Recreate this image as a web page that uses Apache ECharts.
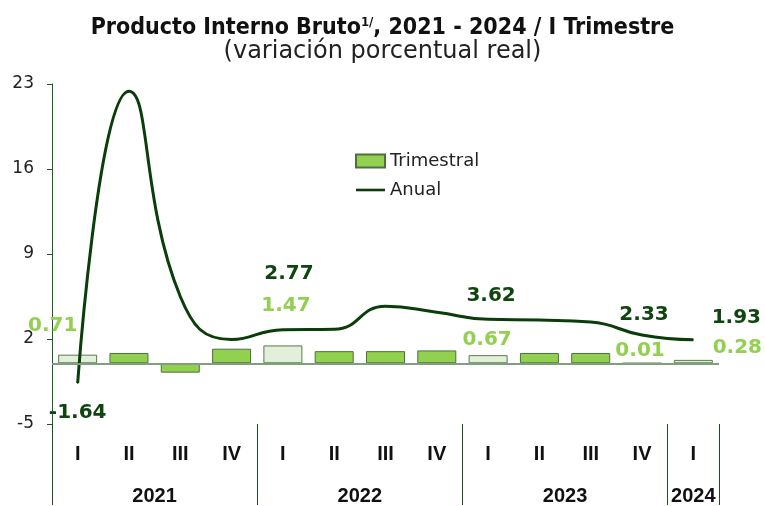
<!DOCTYPE html>
<html>
<head>
<meta charset="utf-8">
<script src="https://cdn.jsdelivr.net/npm/echarts@6/dist/echarts.min.js"></script>
<style>
html, body { margin: 0; padding: 0; background: #fff; }
#chart { width: 765px; height: 506px; }
</style>
</head>
<body>
<div id="chart"></div>
<script>
// datos
const quarters = ['I', 'II', 'III', 'IV', 'I', 'II', 'III', 'IV', 'I', 'II', 'III', 'IV', 'I'];
const years = ['2021', '2022', '2023', '2024'];
const quartersPerYear = [4, 4, 4, 1];
const trimestral = [0.71, 0.85, -0.77, 1.2, 1.47, 1.0, 1.0, 1.06, 0.67, 0.85, 0.85, 0.01, 0.28];
const anual = [-1.64, 22.4, 5.5, 1.95, 2.77, 2.8, 4.7, 4.2, 3.62, 3.56, 3.4, 2.33, 1.93];
const labelled = [0, 4, 8, 11, 12];

const chart = echarts.init(document.getElementById('chart'));

const LIGHT = '#92d050';
const DARK = '#0b3d0b';
const NUM_FONT = 'DejaVu Sans';
const TITLE_FONT = "'Liberation Sans Narrow', 'DejaVu Sans Condensed', sans-serif";

// label nudges so they sit like the original
const trimOffsets = { 0: [-25, -14], 4: [3, -25], 8: [-1, 0], 11: [-2, 3], 12: [44, 3] };
const anualOffsets = { 0: [0, 14], 4: [6, -40], 8: [3, -8], 11: [2, -5], 12: [43, -7] };

// year separators and centres on a 0..13 value scale
let bounds = [0];
let centres = [];
quartersPerYear.forEach((n, i) => {
    centres.push(bounds[i] + n / 2);
    bounds.push(bounds[i] + n);
});

const barData = trimestral.map((v, i) => {
    const on = labelled.includes(i);
    return {
        value: v,
        itemStyle: on ? { color: '#e2efda', borderColor: '#5a7a4a' } : undefined,
        label: on ? { show: true, offset: trimOffsets[i] } : { show: false }
    };
});

const lineData = anual.map((v, i) => {
    const on = labelled.includes(i);
    return {
        value: v,
        label: on ? {
            show: true,
            position: v < 0 ? 'bottom' : 'top',
            offset: anualOffsets[i]
        } : { show: false }
    };
});

const option = {
    animation: false,
    title: {
        left: 'center',
        top: 10,
        itemGap: 1,
        text: '{a|Producto Interno Bruto}{s|1/}{a|, 2021 - 2024 / I Trimestre}',
        textStyle: {
            rich: {
                a: { fontFamily: TITLE_FONT, fontWeight: 'bold', fontSize: 23, color: '#111', lineHeight: 26 },
                s: { fontFamily: TITLE_FONT, fontWeight: 'bold', fontSize: 13, color: '#111', lineHeight: 26, padding: [0, 0, 11, 0] }
            }
        },
        subtext: '(variación porcentual real)',
        subtextStyle: { fontFamily: 'DejaVu Sans', fontSize: 24, color: '#222', fontWeight: 'normal' }
    },
    legend: {
        orient: 'vertical',
        left: 350,
        top: 147,
        itemWidth: 29,
        itemHeight: 13,
        itemGap: 11,
        textStyle: { fontFamily: 'DejaVu Sans', fontSize: 18, color: '#222' },
        data: [
            { name: 'Trimestral', icon: 'rect' },
            { name: 'Anual', icon: 'path://M0,0 M0,13 M0,5.2 L29,5.2 L29,7.8 L0,7.8 Z' }
        ]
    },
    grid: { left: 52, right: 46, top: 84, bottom: 81, containLabel: false },
    xAxis: [{
        type: 'category',
        position: 'bottom',
        data: quarters,
        axisLine: { show: false },
        axisTick: { show: false },
        axisLabel: { margin: 20, color: '#111', fontFamily: 'Liberation Sans', fontWeight: 'bold', fontSize: 20 }
    }, {
        type: 'value',
        position: 'bottom',
        min: 0,
        max: 13,
        interval: 1,
        axisLine: { show: false },
        splitLine: { show: false },
        axisTick: {
            show: true,
            customValues: bounds,
            length: 81,
            lineStyle: { color: '#1d4d1d', width: 1 }
        },
        axisLabel: {
            customValues: centres,
            margin: 62,
            color: '#111',
            fontFamily: 'Liberation Sans',
            fontWeight: 'bold',
            fontSize: 20,
            formatter: v => years[centres.indexOf(v)] || ''
        }
    }],
    yAxis: {
        type: 'value',
        min: -5,
        max: 23,
        interval: 7,
        axisLine: { show: true, lineStyle: { color: '#1f5a1f', width: 1 } },
        axisTick: { show: true, length: 5, lineStyle: { color: '#1f5a1f' } },
        splitLine: { show: false },
        axisLabel: { margin: 18, color: '#222', fontFamily: NUM_FONT, fontSize: 17 }
    },
    series: [{
        name: 'Trimestral',
        type: 'bar',
        barWidth: '76%',
        data: barData,
        itemStyle: { color: LIGHT, borderColor: '#4f6f3f', borderWidth: 1 },
        label: {
            position: 'top',
            distance: 5,
            color: LIGHT,
            fontFamily: NUM_FONT,
            fontWeight: 'bold',
            fontSize: 20
        },
        markLine: {
            silent: true,
            symbol: ['none', 'none'],
            label: { show: false },
            lineStyle: { color: '#7f9f7f', width: 2, type: 'solid' },
            data: [{ yAxis: 0 }]
        },
        z: 2
    }, {
        name: 'Anual',
        type: 'line',
        smooth: 0.5,
        symbol: 'circle',
        symbolSize: 1,
        data: lineData,
        itemStyle: { color: DARK },
        lineStyle: { color: DARK, width: 3 },
        label: {
            distance: 5,
            color: '#0f450f',
            fontFamily: NUM_FONT,
            fontWeight: 'bold',
            fontSize: 20
        },
        z: 3
    }]
};

chart.setOption(option);
</script>
</body>
</html>
